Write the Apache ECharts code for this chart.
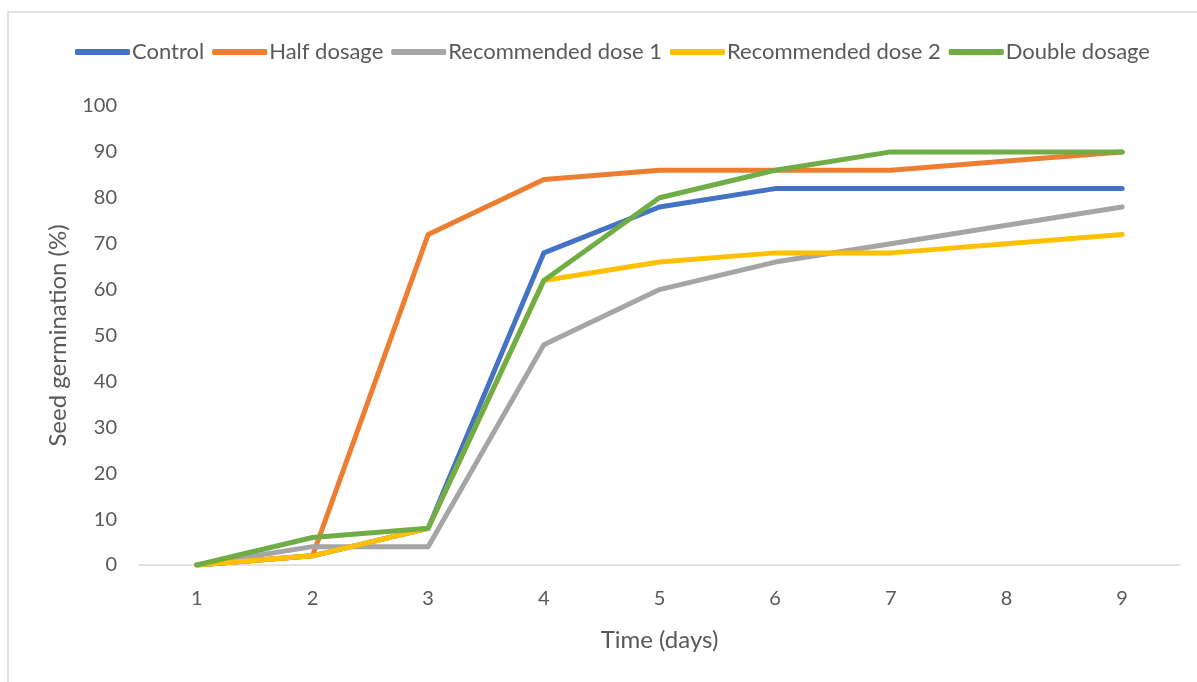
<!DOCTYPE html>
<html>
<head>
<meta charset="utf-8">
<script src="https://cdn.jsdelivr.net/npm/echarts@6/dist/echarts.min.js"></script>
<style>
  html, body { margin: 0; padding: 0; background: #ffffff; }
  #chart { width: 1197px; height: 682px; }
</style>
</head>
<body>
<div id="chart"></div>
<script>
// Days after sowing
const days = ['1', '2', '3', '4', '5', '6', '7', '8', '9'];

// Seed germination (%) per treatment
const control        = [0, 2, 8, 68, 78, 82, 82, 82, 82];
const halfDosage     = [0, 2, 72, 84, 86, 86, 86, 88, 90];
const recommended1   = [0, 4, 4, 48, 60, 66, 70, 74, 78];
const recommended2   = [0, 2, 8, 62, 66, 68, 68, 70, 72];
const doubleDosage   = [0, 6, 8, 62, 80, 86, 90, 90, 90];

const seriesNames = ['Control', 'Half dosage', 'Recommended dose 1', 'Recommended dose 2', 'Double dosage'];
const seriesData = [control, halfDosage, recommended1, recommended2, doubleDosage];
const colors = ['#4472C4', '#ED7D31', '#A5A5A5', '#FFC000', '#70AD47'];

const font = 'Lato, "Open Sans", "Liberation Sans", sans-serif';
const textColor = '#595959';

const chart = echarts.init(document.getElementById('chart'), null, { renderer: 'canvas' });

chart.setOption({
  animation: false,
  color: colors,
  textStyle: { fontFamily: font, color: textColor },
  graphic: [{
    type: 'rect',
    shape: { x: 8, y: 12, width: 1200, height: 700 },
    style: { fill: 'none', stroke: '#d9d9d9', lineWidth: 1.5 },
    silent: true,
    z: -1
  }],
  legend: {
    top: 36,
    left: 70,
    itemWidth: 55,
    itemHeight: 6,
    itemGap: 8,
    icon: 'roundRect',
    textStyle: { fontFamily: font, fontSize: 22, color: textColor, padding: [0, 0, 0, -3] },
    data: seriesNames
  },
  grid: { left: 139, right: 17, top: 106, bottom: 117, containLabel: false },
  xAxis: {
    type: 'category',
    data: days,
    boundaryGap: true,
    name: 'Time (days)',
    nameLocation: 'middle',
    nameGap: 63,
    nameTextStyle: { fontFamily: font, fontSize: 24, color: textColor },
    axisLine: { lineStyle: { color: '#d9d9d9', width: 1.5 } },
    axisTick: { show: false },
    axisLabel: { fontFamily: font, fontSize: 20, color: textColor, margin: 24 },
    splitLine: { show: false }
  },
  yAxis: {
    type: 'value',
    min: 0,
    max: 100,
    interval: 10,
    name: 'Seed germination (%)',
    nameLocation: 'middle',
    nameGap: 69,
    nameTextStyle: { fontFamily: font, fontSize: 24, color: textColor },
    axisLine: { show: false },
    axisTick: { show: false },
    axisLabel: { fontFamily: font, fontSize: 20, color: textColor, margin: 22 },
    splitLine: { show: false }
  },
  series: seriesNames.map((name, i) => ({
    name: name,
    type: 'line',
    data: seriesData[i],
    showSymbol: false,
    symbol: 'none',
    lineStyle: { width: 5, color: colors[i], cap: 'round', join: 'round' },
    itemStyle: { color: colors[i] }
  }))
});
</script>
</body>
</html>
